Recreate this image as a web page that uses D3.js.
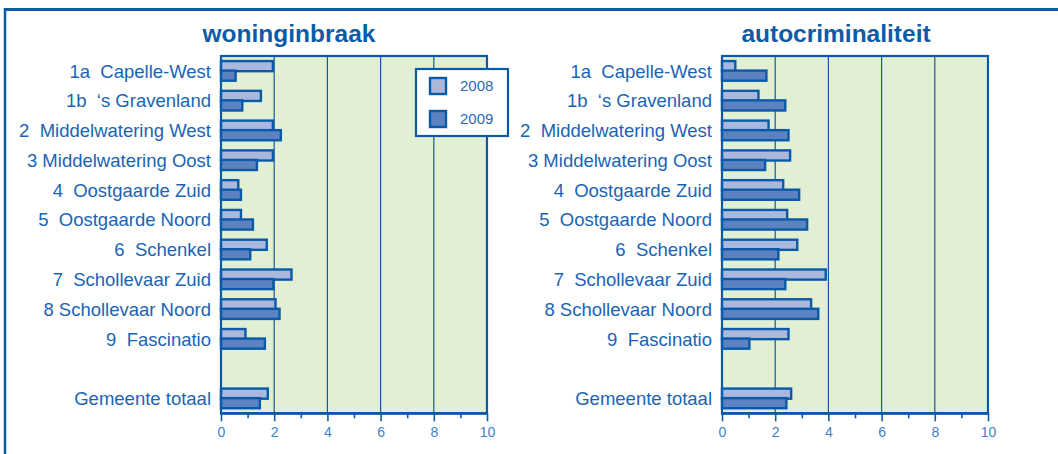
<!DOCTYPE html>
<html>
<head>
<meta charset="utf-8">
<script src="https://cdn.jsdelivr.net/npm/d3@7"></script>
<style>
  html, body { margin: 0; padding: 0; background: #ffffff; }
  svg { display: block; }
  text { font-family: "Liberation Sans", Arial, Helvetica, sans-serif; }
</style>
</head>
<body>
<svg id="chart" width="1058" height="454"></svg>
<script>
// ---- data ----
const categories = [
  "1a  Capelle-West",
  "1b  \u2018s Gravenland",
  "2  Middelwatering West",
  "3 Middelwatering Oost",
  "4  Oostgaarde Zuid",
  "5  Oostgaarde Noord",
  "6  Schenkel",
  "7  Schollevaar Zuid",
  "8 Schollevaar Noord",
  "9  Fascinatio",
  "Gemeente totaal"
];
const seriesNames = ["2008", "2009"];
const woning2008 = [1.95, 1.50, 1.95, 1.95, 0.65, 0.75, 1.72, 2.65, 2.05, 0.92, 1.76];
const woning2009 = [0.55, 0.80, 2.25, 1.35, 0.75, 1.20, 1.10, 1.97, 2.20, 1.65, 1.46];
const auto2008   = [0.50, 1.37, 1.75, 2.56, 2.30, 2.45, 2.83, 3.90, 3.35, 2.50, 2.60];
const auto2009   = [1.67, 2.38, 2.50, 1.62, 2.90, 3.20, 2.12, 2.38, 3.62, 1.03, 2.42];
const tickValues = [0, 1, 2, 3, 4, 5, 6, 7, 8, 9, 10];
const tickLabels = ["0", "", "2", "", "4", "", "6", "", "8", "", "10"];
const panelTitles = ["woninginbraak", "autocriminaliteit"];

// ---- styles ----
const C = {
  frame: "#0a5aa8",
  text: "#1a64b4",
  title: "#0b5ca8",
  tick: "#3f80c6",
  bg: "#e1efd4",
  grid: "#1d5795",
  fill2008: "#aab8de",
  fill2009: "#5c82c2",
  stroke: "#0a5aa8"
};

const svg = d3.select("#chart");

// outer frame (top + left)
svg.append("line").attr("x1", 4).attr("x2", 1058).attr("y1", 9.5).attr("y2", 9.5)
  .attr("stroke", C.frame).attr("stroke-width", 3);
svg.append("line").attr("x1", 5).attr("x2", 5).attr("y1", 8).attr("y2", 454)
  .attr("stroke", C.frame).attr("stroke-width", 2.5);

// rows: 10 districts, a gap, then total
const rowKeys = categories.slice(0, 10).concat(["__gap"], categories.slice(10));
const valueRow = (i) => i < 10 ? categories[i] : categories[10];

const y = d3.scaleBand().domain(rowKeys).range([56, 413.3]).paddingInner(0).paddingOuter(0);

const panels = [
  { left: 221, right: 487, titleX: 289, data: [woning2008, woning2009], legend: true },
  { left: 722, right: 988, titleX: 836, data: [auto2008, auto2009], legend: false }
];

panels.forEach((p, pi) => {
  const x = d3.scaleLinear().domain([0, 10]).range([p.left, p.right]);
  const g = svg.append("g");

  // title
  g.append("text")
    .attr("x", p.titleX).attr("y", 41.5)
    .attr("text-anchor", "middle")
    .attr("font-size", 24.5).attr("font-weight", "bold")
    .attr("fill", C.title)
    .text(panelTitles[pi]);

  // background
  g.append("rect")
    .attr("x", x(0)).attr("y", y.range()[0])
    .attr("width", x(10) - x(0)).attr("height", y.range()[1] - y.range()[0])
    .attr("fill", C.bg);

  // gridlines
  g.selectAll(".grid").data([2, 4, 6, 8]).join("line")
    .attr("x1", d => x(d)).attr("x2", d => x(d))
    .attr("y1", y.range()[0]).attr("y2", y.range()[1])
    .attr("stroke", C.grid).attr("stroke-width", 1.2);

  const bw = y.bandwidth();
  const offs = [0.17 * bw, 0.49 * bw];
  const fills = [C.fill2008, C.fill2009];
  p.data.forEach((arr, si) => {
    g.selectAll(".bar" + si).data(arr).join("rect")
      .attr("x", x(0))
      .attr("y", (d, i) => y(valueRow(i)) + offs[si])
      .attr("width", d => x(d) - x(0))
      .attr("height", 0.34 * bw)
      .attr("fill", fills[si])
      .attr("stroke", C.stroke)
      .attr("stroke-width", 2.4);
  });

  // frame of plot
  g.append("rect")
    .attr("x", x(0)).attr("y", y.range()[0])
    .attr("width", x(10) - x(0)).attr("height", y.range()[1] - y.range()[0])
    .attr("fill", "none").attr("stroke", C.frame).attr("stroke-width", 2.2);
  g.append("line")
    .attr("x1", x(0) - 1).attr("x2", x(10) + 1)
    .attr("y1", y.range()[1]).attr("y2", y.range()[1])
    .attr("stroke", C.frame).attr("stroke-width", 2.8);

  // category labels
  g.selectAll(".cat").data(categories).join("text")
    .attr("x", x(0) - 10)
    .attr("y", (d, i) => y(valueRow(i)) + bw / 2)
    .attr("dy", "0.36em")
    .attr("text-anchor", "end")
    .attr("font-size", 18.5)
    .attr("fill", C.text)
    .style("white-space", "pre")
    .attr("xml:space", "preserve")
    .text(d => d);

  // x axis
  const axis = d3.axisBottom(x)
    .tickValues(tickValues)
    .tickSize(8)
    .tickPadding(6)
    .tickFormat((d, i) => tickLabels[i]);
  const ax = g.append("g")
    .attr("transform", `translate(0,${y.range()[1]})`)
    .call(axis);
  ax.select(".domain").remove();
  ax.selectAll(".tick line")
    .attr("stroke", C.frame).attr("stroke-width", 1.6)
    .attr("y2", (d, i) => i % 2 === 0 ? 8 : 5);
  ax.selectAll(".tick text")
    .attr("fill", C.tick)
    .attr("font-size", 14)
    .attr("font-family", "Liberation Sans, Arial, sans-serif");

  // legend
  if (p.legend) {
    const lg = g.append("g");
    lg.append("rect")
      .attr("x", 416).attr("y", 69).attr("width", 92).attr("height", 67)
      .attr("fill", "#ffffff").attr("stroke", C.frame).attr("stroke-width", 2.2);
    seriesNames.forEach((s, si) => {
      const yy = 78 + si * 33;
      lg.append("rect")
        .attr("x", 430).attr("y", yy).attr("width", 16).attr("height", 16)
        .attr("fill", fills[si]).attr("stroke", C.stroke).attr("stroke-width", 2.4);
      lg.append("text")
        .attr("x", 460).attr("y", yy + 8).attr("dy", "0.36em")
        .attr("font-size", 15).attr("fill", "#2a6ab8")
        .text(s);
    });
  }
});
</script>
</body>
</html>
